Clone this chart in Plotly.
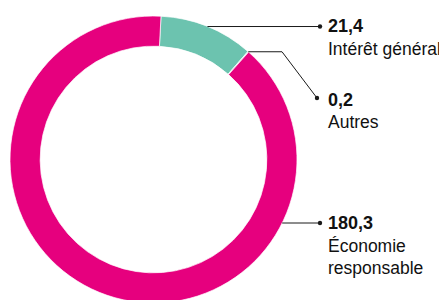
import math
import plotly.graph_objects as go

# ---- data ----
categories = ["Intérêt général", "Autres", "Économie responsable"]
values = [21.4, 0.2, 180.3]
value_labels = ["21,4", "0,2", "180,3"]
name_lines = [["Intérêt général"], ["Autres"], ["Économie", "responsable"]]
colors = ["#6CC3AF", "#C6E2DA", "#E6007E"]

# ---- layout geometry (screen pixels) ----
OFF = 8                      # page (body) margin offset of the plot div
W, H = 447 - OFF, 300
cx, cy, R = 153.5 - OFF, 159.5 - OFF, 143.5
rotation = 3
hole = 0.79
dot_x = 320 - OFF
text_x = 326 - OFF
label_y = [26 - OFF, 100 - OFF, 223 - OFF]
line_gap = 22.5
font_family = "Helvetica Neue, Helvetica, Arial, Liberation Sans, sans-serif"
fs = 17.5

def px(x):
    return x / W

def py(y):
    return 1 - y / H

fig = go.Figure(go.Pie(
    labels=categories,
    values=values,
    sort=False,
    direction="clockwise",
    rotation=rotation,
    hole=hole,
    marker=dict(colors=colors, line=dict(color="white", width=0.7)),
    textinfo="none",
    hoverinfo="label+value",
    showlegend=False,
    domain=dict(x=[px(cx - R), px(cx + R)], y=[max(0, py(cy + R)), min(1, py(cy - R))]),
))

total = sum(values)
cum = 0
mids = []
for v in values:
    mids.append(rotation + (cum + v / 2) / total * 360)
    cum += v

def edge(theta_deg):
    t = math.radians(theta_deg)
    return cx + R * math.sin(t), cy - R * math.cos(t)

shapes = []
line_style = dict(color="#1a1a1a", width=1)

# Leader 1: slice mid -> horizontal
x0, y0 = edge(mids[0])
shapes.append(dict(type="path", xref="paper", yref="paper",
                   path=f"M {px(x0)},{py(y0)} L {px(dot_x)},{py(y0)}", line=line_style))
end_pts = [(dot_x, y0)]

# Leader 2: slice mid -> horizontal -> diagonal
x1, y1 = edge(mids[1])
bend_x = 282 - OFF
d2 = (dot_x - 3, label_y[1] - 2)
shapes.append(dict(type="path", xref="paper", yref="paper",
                   path=f"M {px(x1)},{py(y1)} L {px(bend_x)},{py(y1)} L {px(d2[0])},{py(d2[1])}",
                   line=line_style))
end_pts.append(d2)

# Leader 3: circle edge at label height -> horizontal
y2 = label_y[2]
x2 = cx + math.sqrt(R ** 2 - (y2 - cy) ** 2)
shapes.append(dict(type="path", xref="paper", yref="paper",
                   path=f"M {px(x2)},{py(y2)} L {px(dot_x)},{py(y2)}", line=line_style))
end_pts.append((dot_x, y2))

r_dot = 2.2
for (ex, ey) in end_pts:
    shapes.append(dict(type="circle", xref="paper", yref="paper",
                       x0=px(ex - r_dot), x1=px(ex + r_dot),
                       y0=py(ey + r_dot), y1=py(ey - r_dot),
                       fillcolor="#1a1a1a", line=dict(width=0)))

annotations = []
for i in range(len(categories)):
    ly = label_y[i]
    annotations.append(dict(
        x=px(text_x), y=py(ly), xref="paper", yref="paper",
        text=f"<b>{value_labels[i]}</b>", showarrow=False,
        xanchor="left", yanchor="middle",
        font=dict(family=font_family, size=fs + 0.5, color="#111111")))
    for j, ln in enumerate(name_lines[i]):
        annotations.append(dict(
            x=px(text_x), y=py(ly + line_gap * (j + 1)), xref="paper", yref="paper",
            text=ln, showarrow=False, xanchor="left", yanchor="middle",
            font=dict(family=font_family, size=fs, color="#111111")))

fig.update_layout(
    width=W, height=H,
    margin=dict(l=0, r=0, t=0, b=0),
    paper_bgcolor="white", plot_bgcolor="white",
    shapes=shapes, annotations=annotations,
)

fig.write_html("out.html")
